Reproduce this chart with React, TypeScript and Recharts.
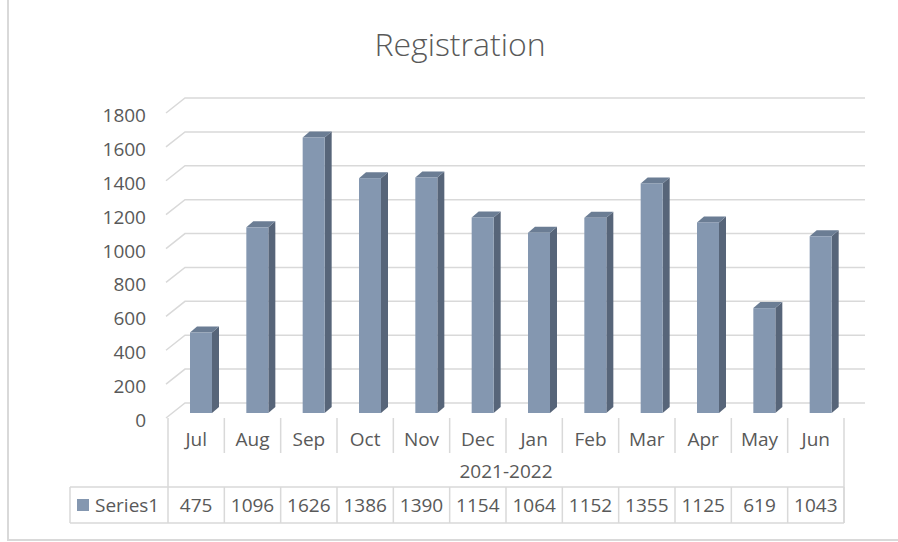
import React from 'react';
import { BarChart, Bar, XAxis, YAxis, CartesianGrid } from 'recharts';

const months = ['Jul', 'Aug', 'Sep', 'Oct', 'Nov', 'Dec', 'Jan', 'Feb', 'Mar', 'Apr', 'May', 'Jun'];
const registrations = [475, 1096, 1626, 1386, 1390, 1154, 1064, 1152, 1355, 1125, 619, 1043];
const yTicks = [0, 200, 400, 600, 800, 1000, 1200, 1400, 1600, 1800];
const seriesName = 'Series1';
const periodLabel = '2021-2022';

const data = months.map((m, i) => ({ month: m, value: registrations[i] }));

const W = 898;
const H = 542;
const PLOT_LEFT = 168;
const PLOT_RIGHT = 844;
const PLOT_TOP = 113;
const PLOT_BOTTOM = 418;
const BAND = (PLOT_RIGHT - PLOT_LEFT) / months.length;
const DEPTH_X = 19;
const DEPTH_Y = 15;
const BACK_RIGHT = 865;

const TEXT = '#595959';
const LINE = '#D9D9D9';
const FRONT = '#8497B0';
const SIDE = '#576579';
const TOP = '#6B7D94';
const FONT = '"Open Sans", "Noto Sans", sans-serif';

// back-wall gridline with the short diagonal on the side wall
const GridLine = (props: any) => {
  const { x1, y1 } = props;
  const y = y1;
  return (
    <path
      d={`M${x1 - 2} ${y} L${x1 + DEPTH_X - 2} ${y - DEPTH_Y} L${BACK_RIGHT} ${y - DEPTH_Y}`}
      fill="none"
      stroke={LINE}
      strokeWidth={1.5}
    />
  );
};

const Bar3D = (props: any) => {
  const { x, y, width, height } = props;
  if (!height) return null;
  const fx = x + 5;
  const fy = y - 5;
  const dx = 7;
  const dy = 6;
  return (
    <g>
      <path
        d={`M${fx + width} ${fy} L${fx + width + dx} ${fy - dy} L${fx + width + dx} ${fy + height - dy} L${fx + width} ${fy + height} Z`}
        fill={SIDE}
      />
      <path
        d={`M${fx} ${fy} L${fx + dx} ${fy - dy} L${fx + width + dx} ${fy - dy} L${fx + width} ${fy} Z`}
        fill={TOP}
      />
      <rect x={fx} y={fy} width={width} height={height} fill={FRONT} />
    </g>
  );
};

const YTick = (props: any) => {
  const { y, payload } = props;
  return (
    <text x={146} y={y + 2} textAnchor="end" dominantBaseline="central" fill={TEXT} fontSize={19} fontFamily={FONT}>
      {payload.value}
    </text>
  );
};

const ROW1_BOTTOM = 453;
const ROW2_BOTTOM = 487;
const ROW3_BOTTOM = 523;
const SERIES_LEFT = 70;

// category row + period row + data table, one tick per month
const TableTick = (props: any) => {
  const { x, payload } = props;
  const i = payload.index;
  const right = x + BAND / 2;
  const txt = { fill: TEXT, fontSize: 19, fontFamily: FONT, textAnchor: 'middle' as const, dominantBaseline: 'central' as const };
  return (
    <g>
      <text x={x} y={439} {...txt}>{payload.value}</text>
      <line x1={right} y1={PLOT_BOTTOM} x2={right} y2={ROW1_BOTTOM} stroke={LINE} strokeWidth={1.5} />
      <line x1={right} y1={ROW2_BOTTOM} x2={right} y2={ROW3_BOTTOM} stroke={LINE} strokeWidth={1.5} />
      <text x={x} y={505} {...txt}>{registrations[i]}</text>
      {i === 0 && (
        <g>
          <line x1={PLOT_LEFT} y1={PLOT_BOTTOM} x2={PLOT_LEFT} y2={ROW3_BOTTOM} stroke={LINE} strokeWidth={1.5} />
          <line x1={PLOT_RIGHT} y1={ROW1_BOTTOM} x2={PLOT_RIGHT} y2={ROW3_BOTTOM} stroke={LINE} strokeWidth={1.5} />
          <line x1={SERIES_LEFT} y1={ROW2_BOTTOM} x2={PLOT_RIGHT} y2={ROW2_BOTTOM} stroke={LINE} strokeWidth={1.5} />
          <line x1={SERIES_LEFT} y1={ROW3_BOTTOM} x2={PLOT_RIGHT} y2={ROW3_BOTTOM} stroke={LINE} strokeWidth={1.5} />
          <line x1={SERIES_LEFT} y1={ROW2_BOTTOM} x2={SERIES_LEFT} y2={ROW3_BOTTOM} stroke={LINE} strokeWidth={1.5} />
          <rect x={77} y={499} width={12} height={12} fill={FRONT} />
          <text x={95} y={505} fill={TEXT} fontSize={19} fontFamily={FONT} dominantBaseline="central">{seriesName}</text>
          <text x={(PLOT_LEFT + PLOT_RIGHT) / 2} y={471} {...txt}>{periodLabel}</text>
        </g>
      )}
    </g>
  );
};

export default function App() {
  return (
    <div style={{ position: 'absolute', left: 0, top: 0, width: W, height: H, background: '#fff', fontFamily: FONT }}>
      <div style={{ position: 'absolute', left: 7, top: -4, width: W, height: 545, borderLeft: `2px solid ${LINE}`, borderBottom: `2px solid ${LINE}`, boxSizing: 'border-box' }} />
      <div style={{ position: 'absolute', left: 0, width: 920, top: 23, textAlign: 'center', fontSize: 32, fontWeight: 300, color: TEXT, lineHeight: '42px' }}>
        Registration
      </div>
      <div style={{ position: 'absolute', left: 0, top: 0 }}>
        <BarChart
          width={W}
          height={H}
          data={data}
          margin={{ top: PLOT_TOP, right: W - PLOT_RIGHT, left: 0, bottom: H - PLOT_BOTTOM - 106 }}
          barSize={22}
        >
          <CartesianGrid vertical={false} horizontal={(p: any) => <GridLine key={p.key} {...p} />} />
          <YAxis
            width={PLOT_LEFT}
            domain={[0, 1800]}
            ticks={yTicks}
            axisLine={false}
            tickLine={false}
            tick={<YTick />}
            interval={0}
          />
          <XAxis
            dataKey="month"
            height={106}
            axisLine={false}
            tickLine={false}
            tick={<TableTick />}
            interval={0}
          />
          <Bar dataKey="value" shape={<Bar3D />} isAnimationActive={false} />
        </BarChart>
      </div>
    </div>
  );
}
